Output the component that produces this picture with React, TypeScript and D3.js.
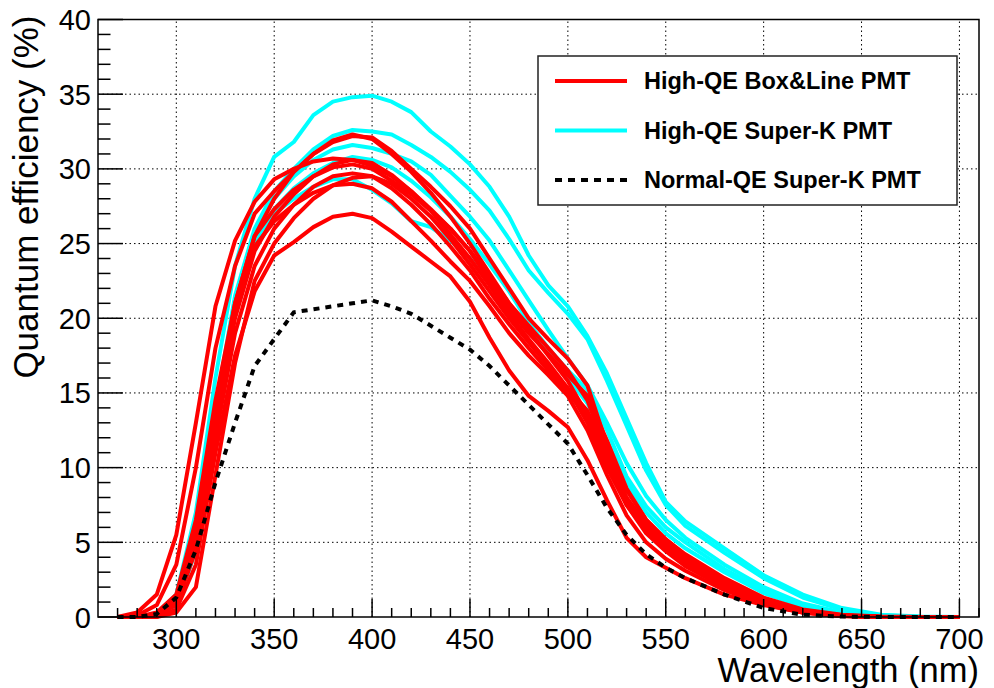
import React, { useEffect, useRef } from 'react';
import * as d3 from 'd3';

// wavelength grid (nm) shared by every curve
const wavelengths = [270, 280, 290, 300, 310, 320, 330, 340, 350, 360, 370, 380, 390, 400, 410, 420, 430, 440, 450,
  460, 470, 480, 490, 500, 510, 520, 530, 540, 550, 560, 580, 600, 620, 640, 660, 680, 700];

// High-QE Box&Line PMTs (red)
const boxLine1 = [0, 0.3, 1.5, 5.5, 13, 20.8, 25.2, 27.8, 29.3, 30, 30.5, 30.7, 30.6, 30.2, 29.5, 28.5, 27.3, 26, 24.5, 22.8, 21, 19.5, 18, 16.5, 14.5, 11, 8, 6.2, 4.9, 3.9, 2.3, 1.1, 0.4, 0.1, 0, 0, 0];
const boxLine2 = [0, 0.1, 0.8, 3.5, 10, 18, 23.5, 27, 28.5, 29.8, 31, 31.8, 32.2, 32.1, 31.2, 30, 28.8, 27.5, 26, 24, 22, 20, 18.6, 17.3, 15.5, 11.5, 8.5, 6.5, 5.2, 4.1, 2.5, 1.2, 0.45, 0.12, 0.02, 0, 0];
const boxLine3 = [0, 0, 0.3, 1.5, 6.5, 14.5, 21, 25.5, 28, 29.8, 31, 31.9, 32.3, 32, 31, 29.8, 28.4, 26.8, 25, 23, 21, 19.2, 17.5, 15.8, 13.5, 10.5, 7.8, 6, 4.8, 3.8, 2.3, 1.1, 0.4, 0.1, 0, 0, 0];
const boxLine4 = [0, 0, 0.2, 1, 5, 13, 20, 24.5, 26.8, 28.3, 29.5, 30.3, 30.6, 30.4, 29.6, 28.5, 27.2, 25.6, 24, 22.2, 20.3, 18.6, 17, 15.3, 13, 10, 7.5, 5.8, 4.6, 3.6, 2.1, 1, 0.35, 0.08, 0, 0, 0];
const boxLine5 = [0, 0, 0.1, 0.8, 4.5, 12, 19, 23.5, 26, 27.6, 28.8, 29.5, 29.7, 29.5, 28.7, 27.6, 26.3, 24.8, 23.2, 21.3, 19.6, 18, 16.5, 15, 13.5, 10.5, 7.5, 5.6, 4.4, 3.4, 2, 0.9, 0.3, 0.07, 0, 0, 0];
const boxLine6 = [0, 0, 0, 0.3, 2, 9.5, 17, 22.5, 25, 26.7, 28, 28.9, 29.4, 29.5, 29, 28, 26.8, 25.3, 23.6, 21.8, 20, 18.4, 16.8, 15.3, 13.8, 10.8, 7.8, 5.9, 4.6, 3.6, 2.1, 1, 0.35, 0.08, 0, 0, 0];
const boxLine7 = [0, 0, 0, 0.5, 3.5, 11, 17.5, 21.8, 24.2, 25.1, 26.1, 26.8, 27, 26.7, 25.8, 24.8, 23.8, 22.8, 21.1, 18.7, 16.5, 14.8, 13.8, 12.7, 10.5, 7.8, 5.3, 4, 3.3, 2.6, 1.5, 0.8, 0.3, 0.07, 0, 0, 0];
const boxLine8 = [0, 0, 0.2, 1.2, 6, 14, 21, 25.5, 27.3, 28.6, 29.5, 30.1, 30.3, 30, 29.2, 28.3, 27.2, 26, 24.5, 22.5, 20.6, 19, 17.6, 16.2, 14.8, 11.8, 8.6, 6.5, 5.2, 4.2, 2.6, 1.3, 0.5, 0.15, 0.03, 0, 0];
const boxLine9 = [0, 0, 0.1, 1, 5.5, 13.5, 20.5, 24.8, 26.5, 27.6, 28.4, 28.9, 29, 28.7, 27.8, 26.5, 25.2, 23.8, 22.5, 20.8, 19, 17.5, 16.2, 14.8, 12.5, 9.5, 6.8, 5, 3.9, 3.1, 1.8, 0.85, 0.3, 0.07, 0, 0, 0];

// High-QE Super-K PMTs (cyan)
const superK1 = [0, 0, 0.2, 1.5, 7, 16, 23.5, 28, 30.8, 31.8, 33.6, 34.5, 34.8, 34.9, 34.5, 33.8, 32.5, 31.5, 30.3, 28.8, 26.8, 24.2, 22.2, 20.8, 18.8, 16.3, 13.3, 10.3, 7.7, 6.4, 4.6, 2.8, 1.5, 0.6, 0.15, 0.03, 0];
const superK2 = [0, 0, 0.1, 1, 5.5, 14, 21.5, 26, 28.5, 30, 31.3, 32.2, 32.6, 32.5, 32.3, 31.6, 30.8, 29.8, 28.6, 27.2, 25.3, 23.2, 21.7, 20.3, 18.6, 15.8, 12.8, 9.8, 7.5, 6.1, 4.3, 2.6, 1.3, 0.5, 0.12, 0.02, 0];
const superK3 = [0, 0, 0.1, 0.8, 5, 13.5, 21, 25.8, 28, 29.5, 30.6, 31.3, 31.6, 31.4, 31, 30.5, 29.6, 28.2, 26.8, 25.2, 23.2, 21.2, 19.2, 17.3, 15.5, 13, 10.3, 8.1, 6.5, 5.3, 3.5, 2, 0.9, 0.3, 0.07, 0, 0];
const superK4 = [0, 0, 0.1, 0.6, 4.5, 13, 20.5, 25.2, 27.3, 28.7, 29.7, 30.4, 30.8, 30.6, 30.1, 29.2, 28.1, 26.8, 25.3, 23.6, 21.8, 19.7, 18, 16.5, 15.2, 12.5, 9.4, 7.4, 6, 5, 3.2, 1.8, 0.8, 0.25, 0.05, 0, 0];
const superK5 = [0, 0, 0.1, 0.8, 5, 13.5, 21, 25, 27, 28, 28.8, 29.3, 29.3, 28.6, 27.7, 26.5, 26.1, 25.2, 24, 22.5, 20.8, 19.2, 17.6, 16, 14.3, 11.8, 9, 7, 5.6, 4.6, 3, 1.6, 0.7, 0.2, 0.04, 0, 0];

// Normal-QE Super-K PMT (black dashed)
const superKNormal = [0, 0, 0.2, 1.3, 4.5, 9, 13, 16.8, 18.6, 20.4, 20.6, 20.8, 21, 21.2, 20.8, 20.3, 19.5, 18.7, 17.9, 16.8, 15.5, 14.2, 12.9, 11.6, 9.5, 7.3, 5.5, 4.2, 3.3, 2.6, 1.5, 0.6, 0.15, 0.03, 0, 0, 0];

const boxLineCurves = [boxLine1, boxLine2, boxLine3, boxLine4, boxLine5, boxLine6, boxLine7, boxLine8, boxLine9];
const superKCurves = [superK1, superK2, superK3, superK4, superK5];

const legendLabels = ['High-QE Box&Line PMT', 'High-QE Super-K PMT', 'Normal-QE Super-K PMT'];

const FONT = '"Liberation Sans", Arial, Helvetica, sans-serif';

function QEChart() {
  const ref = useRef<SVGSVGElement>(null);

  useEffect(() => {
    const svg = d3.select(ref.current);
    svg.selectAll('*').remove();

    const left = 98, right = 979, top = 19.5, bottom = 617;
    const x = d3.scaleLinear().domain([260, 710]).range([left, right]);
    const y = d3.scaleLinear().domain([0, 40]).range([bottom, top]);

    // grid
    const grid = svg.append('g').attr('stroke', '#000').attr('stroke-width', 1).attr('stroke-dasharray', '1.5,3');
    d3.range(300, 701, 50).forEach(v => {
      grid.append('line').attr('x1', x(v)).attr('x2', x(v)).attr('y1', bottom).attr('y2', top);
    });
    d3.range(5, 40, 5).forEach(v => {
      grid.append('line').attr('x1', left).attr('x2', right).attr('y1', y(v)).attr('y2', y(v));
    });

    const line = d3.line<number>()
      .x((_, i) => x(wavelengths[i]))
      .y(d => y(d));

    const curves = svg.append('g').attr('fill', 'none').attr('stroke-width', 4).attr('stroke-linejoin', 'round');
    superKCurves.forEach(c => {
      curves.append('path').attr('d', line(c)).attr('stroke', '#00ffff');
    });
    boxLineCurves.forEach(c => {
      curves.append('path').attr('d', line(c)).attr('stroke', '#ff0000');
    });
    curves.append('path').attr('d', line(superKNormal)).attr('stroke', '#000')
      .attr('stroke-dasharray', '6,6').attr('stroke-linejoin', 'miter');

    // frame
    svg.append('rect').attr('x', left).attr('y', top).attr('width', right - left).attr('height', bottom - top)
      .attr('fill', 'none').attr('stroke', '#000').attr('stroke-width', 1.5);

    // x ticks
    const ticks = svg.append('g').attr('stroke', '#000').attr('stroke-width', 1.5);
    d3.range(270, 711, 10).forEach(v => {
      const len = v % 50 === 0 ? 18 : 9;
      ticks.append('line').attr('x1', x(v)).attr('x2', x(v)).attr('y1', bottom).attr('y2', bottom - len);
    });
    d3.range(0, 41, 1).forEach(v => {
      const len = v % 5 === 0 ? 25 : 12.5;
      ticks.append('line').attr('x1', left).attr('x2', left + len).attr('y1', y(v)).attr('y2', y(v));
    });

    const labels = svg.append('g').attr('font-family', FONT).attr('fill', '#000');
    d3.range(300, 701, 50).forEach(v => {
      labels.append('text').attr('x', x(v)).attr('y', bottom + 32).attr('text-anchor', 'middle')
        .attr('font-size', 29).text(v);
    });
    d3.range(0, 41, 5).forEach(v => {
      labels.append('text').attr('x', left - 7).attr('y', y(v) + 10.5).attr('text-anchor', 'end')
        .attr('font-size', 29).text(v);
    });

    labels.append('text').attr('x', right).attr('y', 682).attr('text-anchor', 'end')
      .attr('font-size', 34.5).text('Wavelength (nm)');
    labels.append('text').attr('transform', `translate(38,${top - 4}) rotate(-90)`).attr('text-anchor', 'end')
      .attr('font-size', 35).text('Quantum efficiency (%)');

    // legend
    const lg = svg.append('g');
    lg.append('rect').attr('x', 538).attr('y', 56).attr('width', 419).attr('height', 149)
      .attr('fill', '#fff').attr('stroke', '#222').attr('stroke-width', 1.5);
    const styles = [
      { color: '#ff0000', dash: null },
      { color: '#00ffff', dash: null },
      { color: '#000', dash: '7,6' },
    ];
    legendLabels.forEach((t, i) => {
      const ly = 81 + i * 49.5;
      lg.append('line').attr('x1', 555).attr('x2', 627).attr('y1', ly).attr('y2', ly)
        .attr('stroke', styles[i].color).attr('stroke-width', 4)
        .attr('stroke-dasharray', styles[i].dash);
      lg.append('text').attr('x', 644).attr('y', ly + 8).attr('font-family', FONT)
        .attr('font-weight', 'bold').attr('font-size', 23.5).text(t);
    });
  }, []);

  return <svg ref={ref} width={994} height={688} style={{ position: 'absolute', left: 0, top: 0, background: '#fff' }} />;
}

export default function App() {
  return <QEChart />;
}
